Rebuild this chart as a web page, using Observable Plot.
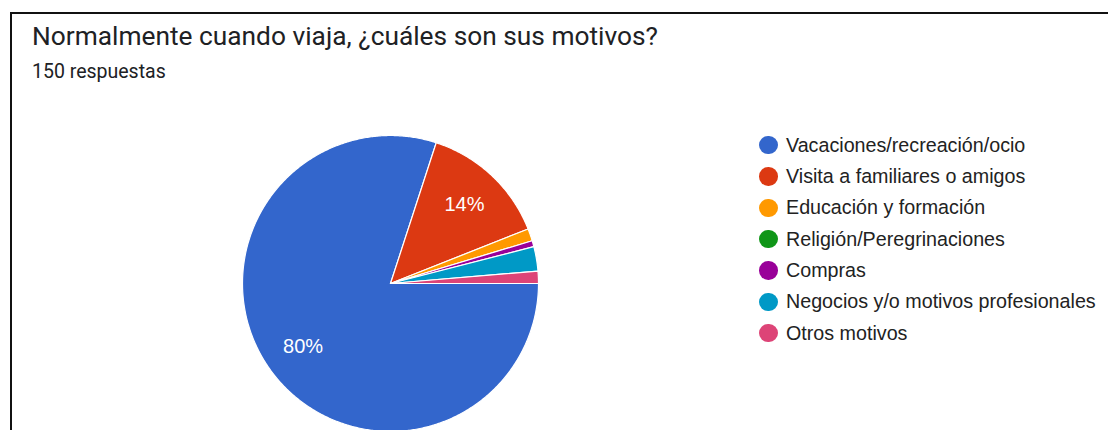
<!DOCTYPE html>
<html>
<head>
<meta charset="utf-8">
<script src="https://cdn.jsdelivr.net/npm/d3@7"></script>
<script src="https://cdn.jsdelivr.net/npm/@observablehq/plot@0.6"></script>
<style>
  html, body { margin: 0; padding: 0; background: #fff; width: 1108px; height: 430px; overflow: hidden; font-family: Roboto, "Noto Sans", sans-serif; }
  #frame { position: absolute; left: 10px; top: 12px; width: 1200px; height: 500px; border-left: 2px solid #111; border-top: 2px solid #111; }
  #title { position: absolute; left: 32px; top: 21px; font-size: 26.3px; color: #202124; white-space: nowrap; }
  #subtitle { position: absolute; left: 32px; top: 60px; font-size: 19.5px; color: #202124; white-space: nowrap; }
  #chart { position: absolute; left: 0; top: 0; }
  #legend { position: absolute; left: 759px; top: 129.5px; }
  .row { display: flex; align-items: center; height: 31.33px; }
  .sw { width: 18.5px; height: 18.5px; border-radius: 50%; margin-right: 8.5px; flex: none; }
  .lab { font-family: "Liberation Sans", Arial, sans-serif; font-size: 19.7px; color: #222; white-space: nowrap; }
</style>
</head>
<body>
<div id="frame"></div>
<div id="chart"></div>
<div id="title">Normalmente cuando viaja, ¿cuáles son sus motivos?</div>
<div id="subtitle">150 respuestas</div>
<div id="legend"></div>
<script>
const categories = [
  "Vacaciones/recreación/ocio",
  "Visita a familiares o amigos",
  "Educación y formación",
  "Religión/Peregrinaciones",
  "Compras",
  "Negocios y/o motivos profesionales",
  "Otros motivos"
];
const counts = [120, 21, 2, 0, 1, 4, 2];
const colors = ["#3366cc", "#dc3912", "#ff9900", "#109618", "#990099", "#0099c6", "#dd4477"];

const total = d3.sum(counts);
const startDeg = 90; // first slice begins at 3 o'clock, clockwise

// Build slice outlines (unit circle coordinates) from the data
const slicePts = [];
const labels = [];
let acc = startDeg;
categories.forEach((name, i) => {
  const v = counts[i];
  const sweep = v / total * 360;
  const a0 = acc, a1 = acc + sweep;
  acc = a1;
  if (v <= 0) return;
  const n = Math.max(2, Math.ceil(sweep / 0.5));
  slicePts.push({name, color: colors[i], x: 0, y: 0});
  for (let k = 0; k <= n; k++) {
    const a = (a0 + (a1 - a0) * k / n) * Math.PI / 180;
    slicePts.push({name, color: colors[i], x: Math.sin(a), y: Math.cos(a)});
  }
  slicePts.push({name, color: colors[i], x: 0, y: 0});
  if (v / total >= 0.05) {
    const m = ((a0 + a1) / 2) * Math.PI / 180;
    labels.push({x: 0.73 * Math.sin(m), y: 0.73 * Math.cos(m), text: Math.round(v / total * 100) + "%"});
  }
});

const cx = 390, cy = 283, R = 148;
const chart = Plot.plot({
  width: 1108,
  height: 430,
  margin: 0,
  x: {domain: [-1, 1], range: [cx - R, cx + R], axis: null},
  y: {domain: [-1, 1], range: [cy + R, cy - R], axis: null},
  style: {background: "transparent", overflow: "visible"},
  marks: [
    Plot.line(slicePts, {x: "x", y: "y", z: "name", fill: d => d.color, stroke: "#fff", strokeWidth: 1.2, curve: "linear"}),
    Plot.text(labels, {x: "x", y: "y", text: "text", fill: "#fff", fontSize: 20, fontFamily: "'Liberation Sans', Arial, sans-serif"})
  ]
});
document.getElementById("chart").appendChild(chart);

const legend = document.getElementById("legend");
categories.forEach((name, i) => {
  const row = document.createElement("div");
  row.className = "row";
  const sw = document.createElement("span");
  sw.className = "sw";
  sw.style.background = colors[i];
  const lab = document.createElement("span");
  lab.className = "lab";
  lab.textContent = name;
  row.appendChild(sw);
  row.appendChild(lab);
  legend.appendChild(row);
});
</script>
</body>
</html>
